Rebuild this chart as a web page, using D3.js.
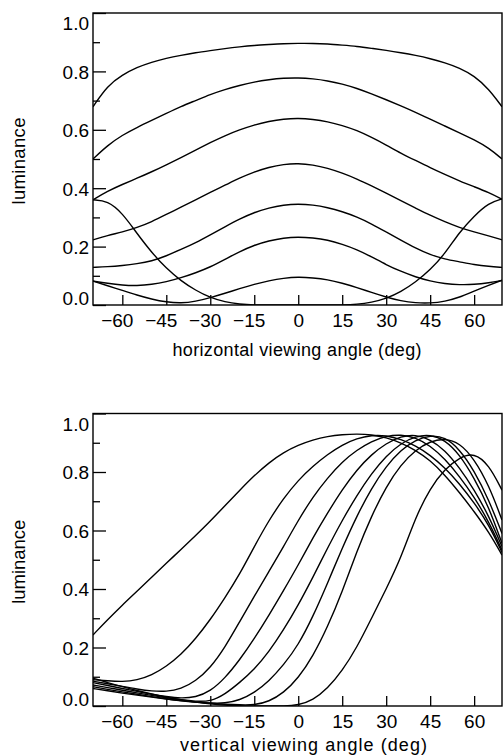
<!DOCTYPE html>
<html>
<head>
<meta charset="utf-8">
<script src="https://cdn.jsdelivr.net/npm/d3@7"></script>
<style>
  html, body { margin: 0; padding: 0; background: #fff; }
  svg { display: block; }
  text { font-family: "Liberation Sans", Arial, Helvetica, sans-serif; fill: #000; }
</style>
</head>
<body>
<script>
// Viewing-angle grid shared by every curve (degrees)
const angles = [-70,-65,-60,-55,-50,-45,-40,-35,-30,-25,-20,-15,-10,-5,0,5,10,15,20,25,30,35,40,45,50,55,60,65,69.5];

// Horizontal viewing angle: luminance of each grey level
const hLevel1 = [.679,.752,.788,.814,.832,.845,.855,.864,.871,.878,.884,.889,.892,.895,.896,.896,.894,.890,.886,.879,.872,.864,.855,.844,.830,.812,.785,.740,.679];
const hLevel2 = [.500,.547,.582,.608,.632,.656,.680,.700,.721,.738,.752,.764,.772,.777,.778,.775,.768,.757,.742,.723,.703,.682,.660,.636,.613,.590,.566,.538,.500];
const hLevel3 = [.360,.390,.413,.434,.456,.480,.505,.530,.556,.580,.600,.617,.629,.637,.640,.636,.628,.615,.598,.574,.548,.520,.495,.470,.447,.425,.405,.385,.362];
const hLevel4 = [.223,.238,.250,.265,.285,.310,.335,.360,.386,.410,.435,.456,.472,.482,.485,.480,.469,.452,.432,.408,.383,.357,.332,.307,.285,.265,.250,.237,.223];
const hLevel5 = [.129,.131,.135,.141,.150,.168,.190,.213,.240,.268,.295,.317,.333,.343,.346,.343,.334,.320,.302,.278,.250,.222,.195,.172,.157,.148,.138,.132,.129];
const hLevel6 = [.082,.074,.068,.066,.070,.079,.093,.110,.130,.156,.183,.205,.220,.230,.233,.230,.223,.208,.190,.165,.138,.115,.096,.082,.073,.069,.070,.076,.084];
const hLevel7 = [.082,.066,.050,.034,.020,.010,.006,.012,.025,.040,.056,.071,.083,.092,.096,.093,.087,.075,.060,.043,.027,.014,.007,.006,.012,.026,.048,.068,.085];
const hLevel8 = [.360,.357,.315,.245,.180,.125,.083,.050,.025,.010,.003,0,0,0,0,0,0,0,.002,.009,.022,.045,.078,.120,.175,.250,.305,.350,.363];

// Vertical viewing angle: luminance of each grey level
const vLevel1 = [.243,.295,.345,.392,.440,.488,.535,.583,.632,.685,.737,.788,.832,.867,.892,.910,.922,.928,.930,.928,.918,.900,.875,.840,.790,.730,.665,.595,.516];
const vLevel2 = [.090,.086,.083,.088,.105,.135,.175,.230,.295,.370,.450,.545,.635,.710,.772,.820,.860,.893,.915,.926,.925,.912,.890,.858,.815,.760,.695,.620,.525];
const vLevel3 = [.085,.076,.067,.058,.051,.049,.058,.085,.130,.200,.288,.375,.460,.545,.635,.715,.780,.835,.875,.905,.923,.928,.918,.890,.845,.785,.715,.630,.533];
const vLevel4 = [.080,.070,.060,.050,.040,.032,.026,.030,.050,.095,.157,.230,.310,.395,.482,.575,.660,.740,.808,.860,.898,.922,.928,.912,.875,.815,.740,.650,.545];
const vLevel5 = [.072,.063,.054,.045,.036,.028,.021,.016,.015,.040,.080,.125,.185,.260,.345,.440,.540,.635,.720,.795,.855,.898,.922,.928,.910,.860,.780,.680,.556];
const vLevel6 = [.066,.057,.048,.040,.032,.025,.018,.013,.010,.009,.020,.045,.085,.140,.208,.305,.420,.540,.650,.745,.820,.875,.910,.925,.920,.878,.805,.705,.590];
const vLevel7 = [.060,.052,.044,.037,.030,.024,.018,.013,.009,.006,.004,.003,.015,.045,.095,.170,.270,.390,.530,.650,.750,.825,.875,.905,.915,.900,.845,.755,.636];
const vLevel8 = [.095,.080,.066,.053,.041,.030,.021,.013,.007,.003,.001,0,0,0,.003,.020,.060,.120,.200,.300,.400,.505,.645,.745,.810,.850,.866,.825,.738];

// Axis ticks and labels
const xTickValues = [-60,-45,-30,-15,0,15,30,45,60];
const yMajorTicks = [0,0.2,0.4,0.6,0.8,1.0];
const yMinorTicks = [0.1,0.3,0.5,0.7,0.9];
const yAxisTitle = "luminance";
const topXTitle = "horizontal viewing angle (deg)";
const bottomXTitle = "vertical viewing angle (deg)";

const W = 503, H = 756;
const FONT = 19;
const LEFT = 93, RIGHT = 502;

const svg = d3.select("body").append("svg").attr("width", W).attr("height", H);
svg.append("rect").attr("width", W).attr("height", H).attr("fill", "#fff");

const x = d3.scaleLinear().domain([-70, 69.5]).range([LEFT, RIGHT]);

function drawPanel(id, top, bottom, series, xTitle, xTitleLen, xTitleCx, xTitleGap, yTitleLen) {
  const y = d3.scaleLinear().domain([0, 1]).range([bottom, top]);
  const g = svg.append("g");

  // clip curves to the plotting frame
  g.append("clipPath").attr("id", id)
    .append("rect").attr("x", LEFT).attr("y", top).attr("width", RIGHT - LEFT).attr("height", bottom - top);

  const line = d3.line()
    .x(d => x(d[0]))
    .y(d => y(d[1]))
    .curve(d3.curveBasis);

  g.append("g").attr("clip-path", `url(#${id})`)
    .selectAll("path")
    .data(series)
    .join("path")
    .attr("d", s => line(angles.map((a, i) => [a, s[i]])))
    .attr("fill", "none")
    .attr("stroke", "#000")
    .attr("stroke-width", 1.4)
    .attr("stroke-linejoin", "round");

  // x axis: ticks pointing into the frame, digits centred on the tick
  const xAxis = d3.axisBottom(x)
    .tickValues(xTickValues)
    .tickSizeInner(-10)
    .tickSizeOuter(0)
    .tickPadding(9)
    .tickFormat(d => (d < 0 ? "\u2212" : "") + Math.abs(d));
  const gx = g.append("g").attr("transform", `translate(0,${bottom})`).call(xAxis);
  gx.select(".domain").remove();
  gx.selectAll(".tick line").attr("stroke", "#000").attr("stroke-width", 1.3);
  gx.selectAll(".tick text")
    .attr("font-size", FONT)
    .attr("text-anchor", d => d === 0 ? "middle" : "end")
    .attr("x", d => d === 0 ? 0 : String(Math.abs(d)).length * 0.556 * FONT / 2);

  // y axis: major ticks with labels, minor ticks without
  const yAxis = d3.axisLeft(y)
    .tickValues(yMajorTicks)
    .tickSizeInner(-13)
    .tickSizeOuter(0)
    .tickPadding(4)
    .tickFormat(d3.format(".1f"));
  const gy = g.append("g").attr("transform", `translate(${LEFT},0)`).call(yAxis);
  gy.select(".domain").remove();
  gy.selectAll(".tick line").attr("stroke", "#000").attr("stroke-width", 1.3);
  gy.selectAll(".tick text")
    .attr("font-size", FONT)
    .attr("dy", d => d === 0 ? "-0.02em" : (d === 1 ? "0.87em" : "0.36em"));

  const yMinor = d3.axisLeft(y)
    .tickValues(yMinorTicks)
    .tickSizeInner(-7)
    .tickSizeOuter(0)
    .tickFormat("");
  const gym = g.append("g").attr("transform", `translate(${LEFT},0)`).call(yMinor);
  gym.select(".domain").remove();
  gym.selectAll(".tick line").attr("stroke", "#000").attr("stroke-width", 1.3);

  // frame
  g.append("rect")
    .attr("x", LEFT).attr("y", top)
    .attr("width", RIGHT - LEFT).attr("height", bottom - top)
    .attr("fill", "none").attr("stroke", "#000").attr("stroke-width", 1.4);

  // axis titles
  g.append("text")
    .attr("x", xTitleCx).attr("y", bottom + xTitleGap)
    .attr("text-anchor", "middle")
    .attr("font-size", 18)
    .attr("textLength", xTitleLen)
    .attr("lengthAdjust", "spacing")
    .text(xTitle);

  const cy = (top + bottom) / 2 + 2;
  g.append("text")
    .attr("transform", `translate(25,${cy}) rotate(-90)`)
    .attr("text-anchor", "middle")
    .attr("font-size", 18.5)
    .attr("textLength", yTitleLen)
    .attr("lengthAdjust", "spacing")
    .text(yAxisTitle);
}

drawPanel("clipTop", 13, 305,
  [hLevel1, hLevel2, hLevel3, hLevel4, hLevel5, hLevel6, hLevel7, hLevel8],
  topXTitle, 249, 297, 51, 87);

drawPanel("clipBottom", 413.5, 706,
  [vLevel1, vLevel2, vLevel3, vLevel4, vLevel5, vLevel6, vLevel7, vLevel8],
  bottomXTitle, 247, 303.5, 45, 84);
</script>
</body>
</html>
